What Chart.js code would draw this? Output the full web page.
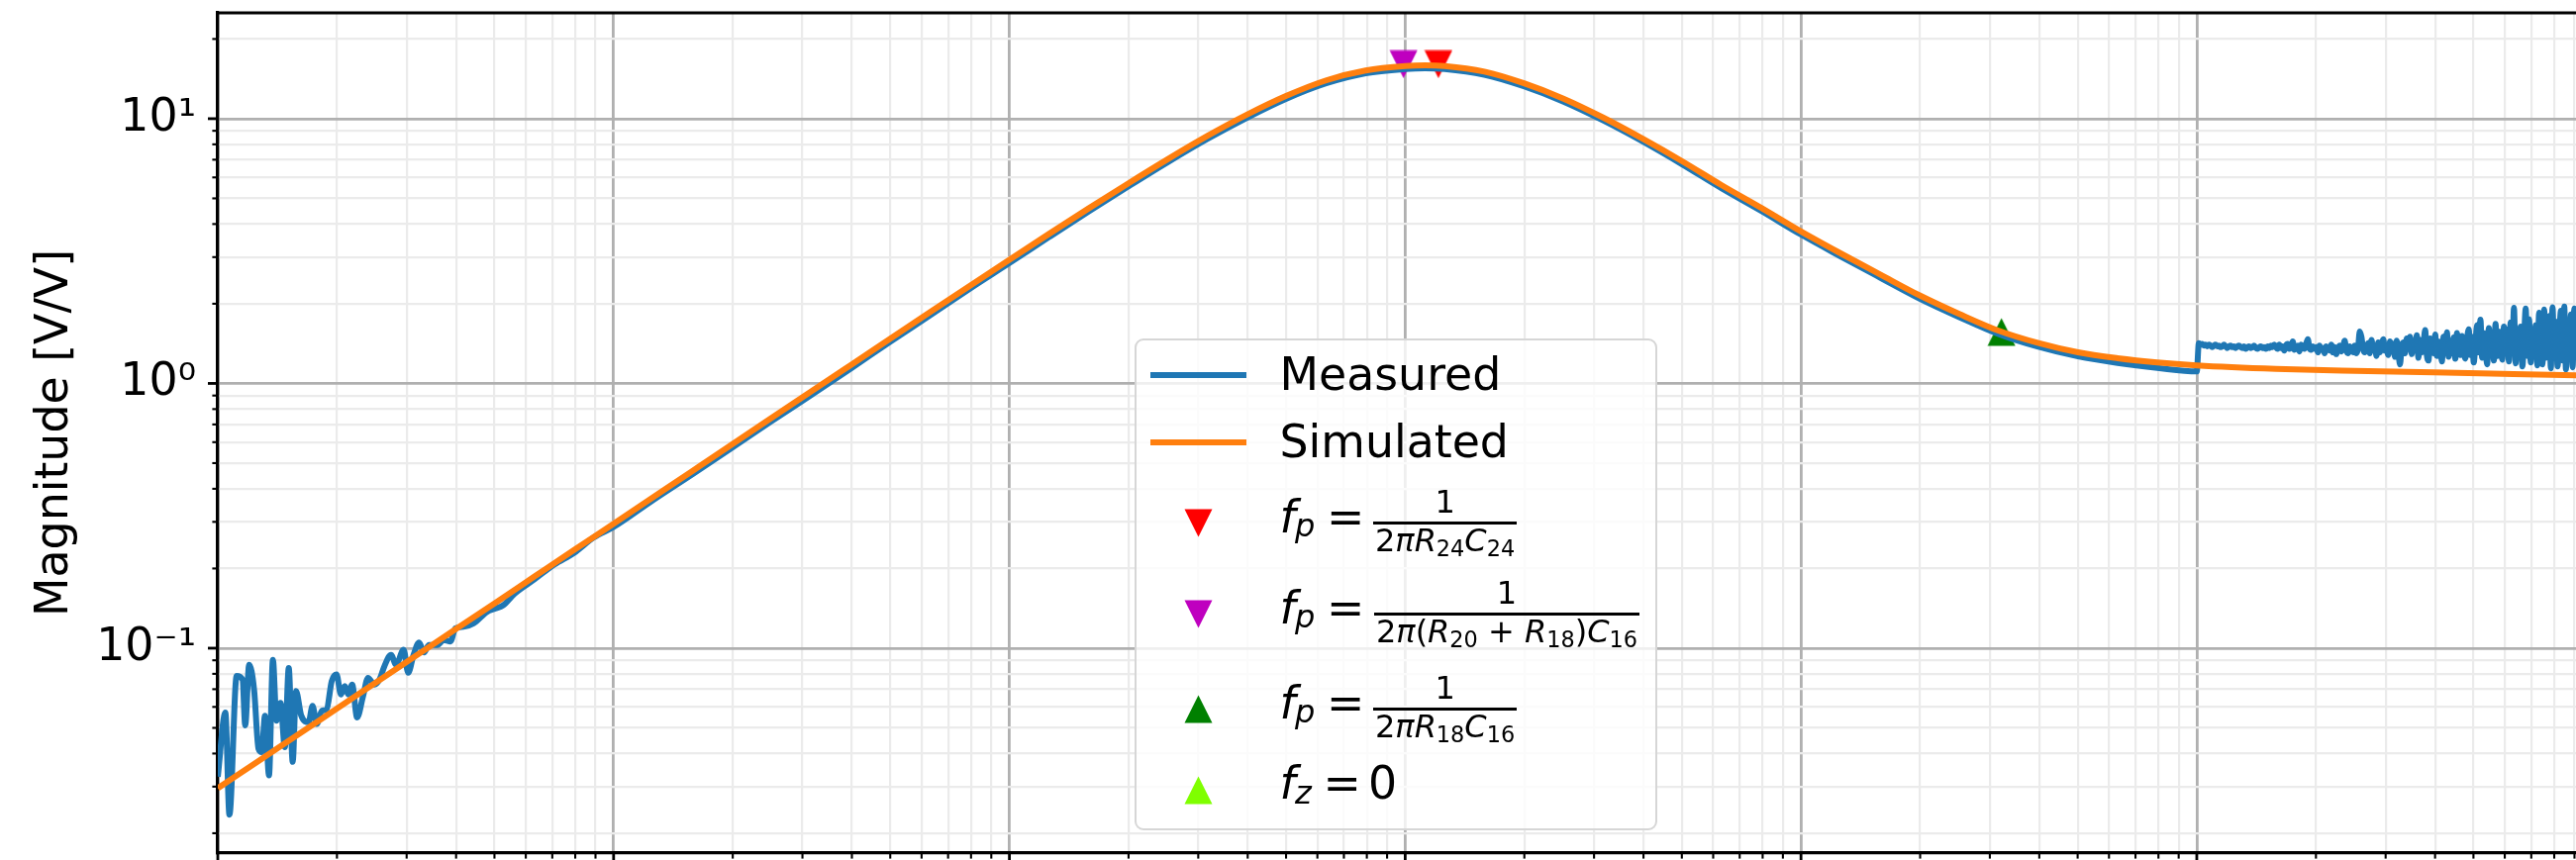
<!DOCTYPE html>
<html>
<head>
<meta charset="utf-8">
<title>Magnitude response</title>
<script src="https://cdn.jsdelivr.net/npm/chart.js@4.4.1/dist/chart.umd.min.js"></script>
<style>
  html, body { margin: 0; padding: 0; background: #fff; overflow: hidden; }
  #wrap { position: relative; width: 2602px; height: 869px; }
  #chart { position: absolute; left: 0; top: 0; }
  #legend { position: absolute; left: 0; top: 0; width: 2602px; height: 869px; pointer-events: none;
            font-family: 'DejaVu Sans', sans-serif; color: #000; }
  .frame { position: absolute; box-sizing: border-box; border: 2.5px solid #d6d6d6; border-radius: 9px;
           background: rgba(255, 255, 255, 0.8); }
  .t { position: absolute; line-height: 1; white-space: nowrap; }
  .it { font-style: italic; }
  .frac { position: absolute; line-height: 1; white-space: nowrap; }
  .den { display: block; border-top: 3px solid #000; padding: 0 2px; font-size: 32px; line-height: 1; }
  .num { position: absolute; left: 0; right: 0; bottom: calc(100% + 3.5px); text-align: center;
         font-size: 32px; line-height: 1; }
  .s { font-size: 0.7em; vertical-align: -5px; line-height: 1; font-style: normal; }
  .hl { position: absolute; height: 6px; }
</style>
</head>
<body>
<div id="wrap">
  <canvas id="chart" width="2602" height="869" style="width:2602px;height:869px"></canvas>
  <div id="legend"></div>
</div>
<script>
// axis limits (Hz, V/V)
const xRange = [10, 9.08e6];
const yRange = [0.01683, 25.1];
const yMajor = [0.1, 1, 10];
const yTickLabels = ['10⁻¹', '10⁰', '10¹'];

// simulated response
const simFreq = [10, 12.59, 15.85, 19.95, 25.12, 31.62, 39.81, 50.12, 63.1, 79.43,
  100, 158.5, 251.2, 398.1, 631, 1000, 1259, 1585, 1995, 2512,
  3162, 3981, 5012, 6310, 7943, 10000, 11220, 12589, 15849, 19953,
  25119, 31623, 39811, 50119, 63096, 79433, 100000, 125893, 158489, 199526,
  251189, 316228, 398107, 501187, 630957, 794328, 1e6, 1.585e6, 2.512e6, 3.981e6,
  6.31e6, 9.12e6];
const simMag = [0.0296, 0.0372, 0.0469, 0.059, 0.0743, 0.0935, 0.1177, 0.148, 0.1865, 0.235,
  0.295, 0.468, 0.742, 1.175, 1.86, 2.93, 3.67, 4.58, 5.69, 7.03,
  8.6, 10.35, 12.2, 13.95, 15.2, 15.8, 15.9, 15.8, 15.05, 13.6,
  11.9, 10.1, 8.4, 6.9, 5.6, 4.6, 3.75, 3.1, 2.58, 2.15,
  1.83, 1.58, 1.42, 1.31, 1.245, 1.2, 1.17, 1.135, 1.115, 1.1,
  1.085, 1.073];

// measured response: noisy low end
const measLowFreq = [10, 10.45, 10.7, 11.16, 11.55, 11.73, 12, 12.35, 12.67, 12.91,
  13.16, 13.47, 13.78, 14.07, 14.4, 14.77, 15.11, 15.46, 15.76, 16.25,
  16.96, 17.35, 17.79, 18.31, 18.84, 19.4, 19.96, 20.46, 20.94, 21.35,
  21.85, 22.49, 23.28, 23.96, 24.89, 25.62, 26.36, 27.4, 28.2, 29.48,
  30.27, 31.23, 32.25, 33.19, 34.16, 35.85, 37.24, 38.71, 39.83, 41.8,
  44.27, 47.83, 50.15, 52.52, 56.28];
const measLowMag = [0.0327, 0.0571, 0.0235, 0.0786, 0.0761, 0.0511, 0.0866, 0.0698, 0.0417, 0.0405,
  0.0556, 0.0331, 0.0904, 0.0532, 0.0622, 0.0423, 0.0842, 0.0372, 0.0689, 0.0556,
  0.0525, 0.0605, 0.0517, 0.058, 0.0588, 0.0751, 0.0795, 0.0669, 0.0719, 0.0669,
  0.0729, 0.0547, 0.0659, 0.0773, 0.0729, 0.0761, 0.0855, 0.0944, 0.0866, 0.0986,
  0.0807, 0.0944, 0.105, 0.0964, 0.1028, 0.1028, 0.1074, 0.106, 0.1188, 0.1205,
  0.124, 0.137, 0.141, 0.145, 0.161];

// measured response: clean middle part
const measMidFreq = [63.1, 70.79, 79.43, 89.13, 100, 125.9, 158.5, 199.5, 251.2, 316.2,
  398.1, 501.2, 631, 794.3, 1000, 1259, 1585, 1995, 2512, 3162,
  3981, 5012, 6310, 7943, 10000, 11220, 12589, 15849, 19953, 25119,
  31623, 39811, 50119, 63096, 79433, 100000, 125893, 158489, 199526, 251189,
  316228, 398107, 501187, 630957, 794328, 1e6];
const measMidMag = [0.182, 0.207, 0.229, 0.262, 0.287, 0.363, 0.455, 0.572, 0.722, 0.905,
  1.14, 1.44, 1.81, 2.28, 2.85, 3.57, 4.46, 5.54, 6.85, 8.38,
  10.08, 11.9, 13.6, 14.85, 15.4, 15.5, 15.4, 14.65, 13.25, 11.6,
  9.85, 8.2, 6.72, 5.45, 4.48, 3.65, 3.02, 2.51, 2.09, 1.78,
  1.535, 1.375, 1.265, 1.195, 1.145, 1.11];

// measured response: noisy high end after the range switch (sweep 1.012 MHz .. 9.08 MHz)
const measHighFirst = 1.012e6;
const measHighLast = 9.08e6;
const measHighMag = [
  1.42, 1.40, 1.41, 1.39, 1.40, 1.38, 1.40, 1.39, 1.37, 1.39, 1.40, 1.38, 1.39, 1.37, 1.38, 1.40,
  1.38, 1.36, 1.38, 1.39, 1.37, 1.38, 1.36, 1.38, 1.39, 1.37, 1.36, 1.38, 1.35, 1.37, 1.38, 1.36,
  1.37, 1.39, 1.36, 1.35, 1.37, 1.38, 1.36, 1.37, 1.35, 1.38, 1.36, 1.39, 1.37, 1.40,
  1.37, 1.35, 1.40, 1.36, 1.38, 1.33, 1.39, 1.41, 1.35, 1.37, 1.44, 1.34, 1.36, 1.39, 1.32, 1.40,
  1.37, 1.35, 1.41, 1.47, 1.36, 1.34, 1.38, 1.35,
  1.37, 1.31, 1.39, 1.34, 1.36, 1.30, 1.38, 1.35, 1.33, 1.40, 1.31, 1.37, 1.29, 1.35, 1.39, 1.32,
  1.36, 1.45, 1.33, 1.30, 1.38, 1.34, 1.31, 1.39, 1.30, 1.36, 1.57, 1.50, 1.35, 1.31, 1.37,
  1.42, 1.30, 1.46, 1.34, 1.38, 1.27, 1.43, 1.31, 1.40, 1.47, 1.33, 1.36, 1.28, 1.44, 1.35, 1.41,
  1.26, 1.45, 1.32, 1.18, 1.38, 1.43, 1.30, 1.48,
  1.36, 1.50, 1.29, 1.44, 1.34, 1.52, 1.25, 1.46, 1.31, 1.40, 1.59, 1.28, 1.22, 1.48, 1.35, 1.30,
  1.53, 1.27, 1.44, 1.38, 1.21, 1.50, 1.33, 1.56, 1.26, 1.45, 1.30, 1.49, 1.24, 1.55, 1.36, 1.28,
  1.51, 1.33, 1.24, 1.47,
  1.60, 1.28, 1.50, 1.20, 1.42, 1.66, 1.31, 1.74, 1.25, 1.55, 1.36, 1.18, 1.62, 1.33, 1.48, 1.22,
  1.68, 1.27, 1.57, 1.40, 1.23, 1.64, 1.30, 1.59,
  1.21, 1.70, 1.30, 1.93, 1.19, 1.56, 1.35, 1.64, 1.16, 1.47, 1.92, 1.27, 1.75, 1.20, 1.52, 1.38,
  1.66, 1.17, 1.85, 1.29,
  1.18, 1.90, 1.25, 1.62, 1.80, 1.14, 1.94, 1.33, 1.71, 1.16, 1.50, 1.88, 1.22, 1.95, 1.13, 1.68,
  1.40, 1.82, 1.15, 1.92, 1.45];

// pole markers
const markerFreq = [12130, 9900, 321000];
const markerMag = [16.05, 16.05, 1.565];
const markerColors = ['#ff0000', '#bf00bf', '#008000'];
const markerDown = [true, true, false];

const FS = 45.8;
Chart.defaults.font.family = "'DejaVu Sans', sans-serif";
Chart.defaults.color = '#000';

const pairs = (xs, ys) => xs.map((x, i) => ({x, y: ys[i]}));

const measHighFreq = measHighMag.map((m, i) =>
  measHighFirst * Math.pow(measHighLast / measHighFirst, i / (measHighMag.length - 1)));

const measured = [
  ...pairs(measLowFreq, measLowMag),
  ...pairs(measMidFreq, measMidMag),
  ...pairs(measHighFreq, measHighMag),
];
const simulated = pairs(simFreq, simMag);

const triangle = function makeTriangleMarker(color, down) {
  const c = document.createElement('canvas');
  c.width = 29;
  c.height = 29;
  const g = c.getContext('2d');
  g.fillStyle = color;
  g.beginPath();
  if (down) {
    g.moveTo(0.5, 0.5); g.lineTo(28.5, 0.5); g.lineTo(14.5, 28.5);
  } else {
    g.moveTo(14.5, 0.5); g.lineTo(28.5, 28.5); g.lineTo(0.5, 28.5);
  }
  g.closePath();
  g.fill();
  return c;
};

const logTicks = function buildLogTicks(min, max) {
  const ticks = [];
  for (let e = Math.floor(Math.log10(min)); e <= Math.ceil(Math.log10(max)); e++) {
    for (let m = 1; m <= 9; m++) {
      const v = Number((m * Math.pow(10, e)).toPrecision(12));
      if (v >= min && v <= max) ticks.push({value: v, major: m === 1});
    }
  }
  return ticks;
};

const gridColor = (c) => (c.tick && c.tick.major ? '#b0b0b0' : '#ebebeb');
const gridWidth = (c) => (c.tick && c.tick.major ? 2.8 : 2.2);

// tick marks (major longer than minor) and the top spine
const frameTicks = {
  id: 'frameTicks',
  afterDraw(chart) {
    const {ctx, chartArea: a, scales: {x, y}} = chart;
    ctx.save();
    ctx.strokeStyle = '#000';
    y.ticks.forEach((t) => {
      const p = y.getPixelForValue(t.value);
      const len = t.major ? 10 : 5.6;
      ctx.lineWidth = t.major ? 2.8 : 2.1;
      ctx.beginPath(); ctx.moveTo(a.left - len, p); ctx.lineTo(a.left, p); ctx.stroke();
    });
    x.ticks.forEach((t) => {
      const p = x.getPixelForValue(t.value);
      const len = t.major ? 10 : 5.6;
      ctx.lineWidth = t.major ? 2.8 : 2.1;
      ctx.beginPath(); ctx.moveTo(p, a.bottom); ctx.lineTo(p, a.bottom + len); ctx.stroke();
    });
    ctx.lineWidth = 3.2;
    ctx.beginPath(); ctx.moveTo(a.left - 1.6, a.top); ctx.lineTo(a.right, a.top); ctx.stroke();
    ctx.restore();
  },
};

const markerSets = markerFreq.map((f, i) => ({
  type: 'scatter',
  data: [{x: f, y: markerMag[i]}],
  showLine: false,
  pointStyle: triangle(markerColors[i], markerDown[i]),
  pointRadius: 14,
  order: 3,
}));

new Chart(document.getElementById('chart'), {
  type: 'line',
  data: {
    datasets: [
      {
        label: 'Measured',
        data: measured,
        borderColor: '#1f77b4',
        borderWidth: 6,
        pointRadius: 0,
        cubicInterpolationMode: 'monotone',
        borderJoinStyle: 'round',
        order: 2,
      },
      {
        label: 'Simulated',
        data: simulated,
        borderColor: '#ff7f0e',
        borderWidth: 6,
        pointRadius: 0,
        cubicInterpolationMode: 'monotone',
        borderJoinStyle: 'round',
        order: 1,
      },
      ...markerSets,
    ],
  },
  options: {
    responsive: false,
    animation: false,
    devicePixelRatio: 1,
    layout: {autoPadding: false, padding: {top: 13, right: 0, bottom: 0, left: 0}},
    plugins: {legend: {display: false}, tooltip: {enabled: false}},
    scales: {
      x: {
        type: 'logarithmic',
        min: xRange[0],
        max: xRange[1],
        afterBuildTicks: (s) => { s.ticks = logTicks(xRange[0], xRange[1]); },
        afterFit: (s) => { s.height = 7; s.paddingLeft = 0; s.paddingRight = 0; },
        ticks: {display: false, autoSkip: false},
        grid: {drawTicks: false, color: gridColor, lineWidth: gridWidth},
        border: {color: '#000', width: 3.2},
      },
      y: {
        type: 'logarithmic',
        min: yRange[0],
        max: yRange[1],
        afterBuildTicks: (s) => { s.ticks = logTicks(yRange[0], yRange[1]); },
        afterFit: (s) => { s.width = 220; s.paddingTop = 0; s.paddingBottom = 0; },
        ticks: {
          autoSkip: false,
          padding: 22,
          color: '#000',
          font: {size: FS},
          callback: (v) => {
            const i = yMajor.indexOf(v);
            return i >= 0 ? yTickLabels[i] : '';
          },
        },
        grid: {drawTicks: false, color: gridColor, lineWidth: gridWidth},
        border: {color: '#000', width: 3.2},
        title: {
          display: true,
          text: 'Magnitude [V/V]',
          color: '#000',
          font: {size: FS},
          padding: {top: 29, bottom: 0},
        },
      },
    },
  },
  plugins: [frameTicks],
});

// legend (html so the fractions stay real text)
const legendEl = document.getElementById('legend');

const add = (tag, cls, html, style) => {
  const e = document.createElement(tag);
  e.className = cls;
  if (html !== null) e.innerHTML = html;
  Object.assign(e.style, style);
  legendEl.appendChild(e);
  return e;
};
const text = (html, left, baseline, size, italic) => add('span', 't' + (italic ? ' it' : ''), html, {
  left: left + 'px', top: (baseline - 0.846 * size) + 'px', fontSize: size + 'px',
});

add('div', 'frame', null, {left: '1146px', top: '342px', width: '528px', height: '497px'});

const lineRows = [
  {label: 'Measured', color: '#1f77b4', mid: 379, base: 395},
  {label: 'Simulated', color: '#ff7f0e', mid: 446.5, base: 462.5},
];
lineRows.forEach((r) => {
  add('div', 'hl', null, {left: '1161.6px', width: '97.4px', top: (r.mid - 3) + 'px', background: r.color});
  text(r.label, 1292.5, r.base, FS, false);
});

const mathRows = [
  {color: markerColors[0], down: true, base: 538.3, sub: 'p', eqX: 1340, barX: 1387,
    den: '2<i>π</i><i>R</i><span class="s">24</span><i>C</i><span class="s">24</span>'},
  {color: markerColors[1], down: true, base: 630.3, sub: 'p', eqX: 1340, barX: 1388,
    den: '2<i>π</i>(<i>R</i><span class="s">20</span> + <i>R</i><span class="s">18</span>)<i>C</i><span class="s">16</span>'},
  {color: markerColors[2], down: false, base: 726.3, sub: 'p', eqX: 1340, barX: 1387,
    den: '2<i>π</i><i>R</i><span class="s">18</span><i>C</i><span class="s">16</span>'},
  {color: '#7fff00', down: false, base: 808.2, sub: 'z', eqX: 1336.5, rhs: '0'},
];
mathRows.forEach((r) => {
  const m = triangle(r.color, r.down);
  m.style.position = 'absolute';
  m.style.left = (1210.3 - 14.5) + 'px';
  m.style.top = (r.base - 9.8 - 14.5) + 'px';
  legendEl.appendChild(m);

  text('f', 1292.5, r.base, FS, true);
  text(r.sub, 1308, r.base + 4, 32, true);
  text('=', r.eqX, r.base, FS, false);
  if (r.den) {
    add('span', 'frac', '<span class="num">1</span><span class="den">' + r.den + '</span>', {
      left: r.barX + 'px', top: (r.base - 10 - 1.5) + 'px',
    });
  } else {
    text(r.rhs, 1382, r.base, FS, false);
  }
});
</script>
</body>
</html>
